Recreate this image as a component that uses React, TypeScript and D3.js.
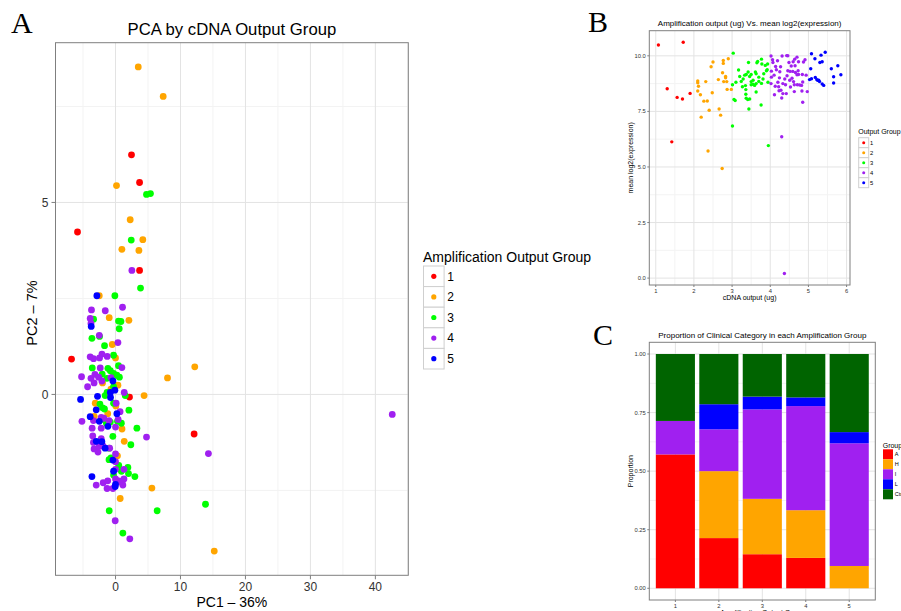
import React from 'react';
import * as d3 from 'd3';

const FONT = '"Liberation Sans", Arial, Helvetica, sans-serif';
const SERIF = '"Liberation Serif", "Times New Roman", serif';

// Amplification output groups and their colours
const outputGroups = ['1', '2', '3', '4', '5'];
const groupColors = ['#FF0000', '#FFA500', '#00FF00', '#A020F0', '#0000FF'];

type Pt = [number, number];

// PCA scores [PC1, PC2] per amplification output group
const pcaGroup1: Pt[] = [
  [2.46, 6.24], [3.7, 5.52], [-5.85, 4.23], [3.7, 3.23], [-6.77, 0.92], [2.15, -0.07], [12.1, -1.03],
];
const pcaGroup2: Pt[] = [
  [3.5, 8.53], [7.34, 7.76], [0.15, 5.44], [2.26, 4.55], [4.2, 4.03], [0.98, 3.78], [3.6, 3.75],
  [-2.5, 2.57], [-0.97, 2.0], [2.06, 1.93], [0, 0.95], [8.0, 0.43], [12.2, 0.72], [0.37, 0.24],
  [-0.71, 0.14], [4.4, -0.03], [-3.12, -0.23], [0.05, -0.3], [-3.28, -0.57], [1.34, -1.22],
  [5.6, -2.44], [0.72, -2.71], [15.2, -4.08], [-1.2, -0.5], [1.0, -0.9], [-2.0, 0.3], [0.3, -1.6],
  [-0.5, 1.3],
];
const pcaGroup3: Pt[] = [
  [4.77, 5.21], [5.38, 5.23], [2.42, 4.02], [3.85, 2.77], [-0.1, 2.57], [0.46, 1.91], [0.83, 1.9],
  [-3.38, 1.96], [0.57, 1.71], [-2.46, 1.51], [-3.63, 1.46], [-1.69, 1.27], [-0.3, 1.02], [0.46, 0.75],
  [-3.58, 0.69], [-1.17, 0.68], [-0.8, 0.62], [-0.3, 0.55], [0.2, 0.5], [0.6, 0.45], [-2.05, 0.53],
  [-1.33, 0.42], [-0.3, 0.2], [-1.3, 0.05], [1.5, -0.03], [-1.6, -0.03], [-2.4, -0.25], [-2.0, -0.35],
  [-1.7, -0.38], [-0.3, -0.23], [2.06, -0.41], [-1.8, -0.65], [-1.4, -0.75], [-0.8, -0.72], [0.3, -0.7],
  [0.9, -0.75], [3.29, -0.88], [-0.41, -1.09], [2.36, -1.31], [-1.0, -1.4], [-1.0, -1.7], [-0.7, -1.65],
  [1.9, -1.9], [0.5, -1.85], [0.9, -2.0], [-0.3, -2.1], [2.0, -2.06], [2.98, -2.14], [-0.97, -3.03],
  [6.41, -3.03], [13.85, -2.86], [1.13, -3.61],
];
const pcaGroup4: Pt[] = [
  [2.52, 3.23], [1.08, 2.27], [-3.7, 2.2], [-1.58, 2.18], [-3.9, 1.98], [-3.78, 1.85], [-2.5, 1.54],
  [0.37, 1.35], [-2.09, 1.05], [-1.28, 0.99], [-3.9, 0.98], [-3.38, 0.93], [-2.46, 0.95], [0.98, 0.7],
  [-2.35, 0.69], [-3.17, 0.52], [-2.6, 0.45], [-5.23, 0.46], [-3.78, 0.42], [-0.71, 0.44], [-3.3, 0.3],
  [-2.1, 0.35], [-4.3, 0.2], [1.34, 0.05], [0.1, -0.23], [0.7, -0.45], [-2.2, -0.6], [-1.8, -0.62],
  [-5.17, -0.7], [-3.4, -0.68], [-1.0, -0.68], [0.4, -0.65], [0.0, -0.85], [-2.2, -0.88], [-3.6, -0.88],
  [-3.5, -1.08], [-2.2, -1.15], [4.77, -1.11], [-3.4, -1.25], [-3.3, -1.42], [-1.9, -1.35], [-2.5, -1.35],
  [-0.9, -1.4], [0.0, -1.55], [0.0, -1.75], [-2.7, -1.5], [0.0, -1.95], [1.3, -1.95], [-1.9, -2.3],
  [-1.2, -2.25], [0.0, -2.2], [0.5, -2.25], [1.0, -2.3], [1.3, -2.2], [-2.97, -2.36], [1.13, -2.36],
  [-1.3, -2.45], [-0.05, -3.29], [2.2, -3.76], [42.6, -0.52], [14.3, -1.54], [-0.4, -2.45],
];
const pcaGroup5: Pt[] = [
  [-2.87, 2.57], [-3.74, 1.77], [-0.1, 0.11], [-0.8, 0.05], [-5.38, -0.13], [-2.77, -0.05], [-0.77, -0.08],
  [-2.97, -0.4], [-3.9, -0.58], [0.21, -0.5], [-1.17, -0.83], [-2.1, -1.23], [-2.97, -1.22], [-1.6, -1.4],
  [-0.41, -1.71], [-0.3, -2.0], [-3.63, -2.14], [0, -2.34], [-0.05, -2.4], [-0.4, 0.35], [-2.5, -0.7],
];
const pcaByGroup = [pcaGroup1, pcaGroup2, pcaGroup3, pcaGroup4, pcaGroup5];
const pcaXTicks = [0, 10, 20, 30, 40];
const pcaYTicks = [0, 5];

// cDNA output (ug) vs. mean log2(expression) per output group
const cdnaGroup1: Pt[] = [
  [1.07, 10.49], [1.72, 10.61], [1.3, 8.52], [1.56, 8.13], [1.7, 8.06], [1.9, 8.31], [1.42, 6.13],
];
const cdnaGroup2: Pt[] = [
  [2.1, 8.87], [2.1, 8.79], [2.12, 8.63], [2.1, 8.42], [2.17, 8.25], [2.31, 8.84], [2.26, 7.96],
  [2.35, 7.97], [2.4, 7.55], [2.19, 7.24], [2.37, 5.72], [2.45, 9.51], [2.5, 9.72], [2.48, 8.34],
  [2.64, 8.93], [2.66, 7.61], [2.7, 7.33], [2.74, 4.93], [2.77, 9.79], [2.77, 9.66], [2.75, 9.24],
  [2.83, 9.01], [2.83, 9.07], [2.78, 8.84], [2.86, 8.84], [2.87, 8.49], [2.9, 9.87], [2.98, 8.49],
];
const cdnaGroup3: Pt[] = [
  [3.03, 10.12], [3.01, 8.7], [3.05, 8.04], [3.08, 7.99], [3.01, 6.84], [3.1, 8.81], [3.17, 9.36],
  [3.2, 9.07], [3.24, 8.85], [3.27, 8.61], [3.29, 8.96], [3.33, 9.13], [3.37, 9.16], [3.35, 8.66],
  [3.36, 8.48], [3.36, 8.27], [3.37, 8.09], [3.41, 8.03], [3.46, 8.06], [3.44, 7.61], [3.43, 9.7],
  [3.42, 9.27], [3.46, 9.07], [3.5, 8.84], [3.5, 8.7], [3.55, 8.9], [3.55, 8.72], [3.59, 8.67],
  [3.63, 8.75], [3.61, 9.27], [3.63, 9.19], [3.65, 9.69], [3.67, 9.75], [3.7, 9.04], [3.7, 8.85],
  [3.63, 8.37], [3.77, 9.85], [3.78, 9.63], [3.77, 8.76], [3.76, 7.79], [3.81, 8.96], [3.83, 9.19],
  [3.87, 9.57], [3.9, 9.33], [3.92, 9.37], [3.94, 8.81], [3.93, 9.63], [3.95, 5.96], [3.5, 9.16],
];
const cdnaGroup4: Pt[] = [
  [4.02, 9.99], [4.06, 9.82], [4.03, 9.31], [4.02, 8.75], [4.07, 9.7], [4.1, 9.13], [4.11, 8.25],
  [4.14, 9.52], [4.16, 9.37], [4.19, 9.78], [4.2, 8.81], [4.22, 8.61], [4.23, 8.43], [4.25, 9.28],
  [4.27, 9.51], [4.3, 8.1], [4.31, 9.99], [4.33, 8.75], [4.3, 6.36], [4.33, 8.3], [4.37, 0.21],
  [4.38, 8.96], [4.4, 8.7], [4.43, 10.01], [4.46, 10.0], [4.46, 9.33], [4.49, 9.7], [4.51, 8.9],
  [4.52, 9.3], [4.55, 9.54], [4.53, 8.6], [4.57, 8.99], [4.59, 9.3], [4.6, 9.73], [4.63, 8.39],
  [4.61, 8.84], [4.66, 9.25], [4.65, 9.55], [4.64, 9.85], [4.7, 9.94], [4.71, 8.7], [4.7, 9.15],
  [4.73, 9.33], [4.74, 9.73], [4.74, 9.16], [4.77, 8.69], [4.82, 8.67], [4.83, 8.42], [4.84, 9.16],
  [4.85, 8.82], [4.85, 7.91], [4.87, 9.72], [4.91, 9.82], [4.94, 9.13], [4.97, 8.39], [4.03, 9.04],
  [4.24, 9.01], [4.44, 9.1], [4.13, 8.63], [4.28, 8.45], [4.63, 8.7], [4.42, 8.3],
];
const cdnaGroup5: Pt[] = [
  [5.08, 10.09], [5.06, 9.42], [5.03, 8.93], [5.08, 8.97], [5.17, 9.87], [5.18, 9.03], [5.22, 8.93],
  [5.24, 8.9], [5.27, 8.9], [5.3, 9.7], [5.33, 10.03], [5.36, 9.73], [5.36, 8.73], [5.4, 8.67],
  [5.44, 10.16], [5.6, 9.42], [5.66, 9.06], [5.66, 8.78], [5.77, 9.55], [5.85, 9.15], [5.29, 8.84],
];
const cdnaByGroup = [cdnaGroup1, cdnaGroup2, cdnaGroup3, cdnaGroup4, cdnaGroup5];
const cdnaXTicks = [1, 2, 3, 4, 5, 6];
const cdnaYTicks = [0, 2.5, 5, 7.5, 10];

// Clinical category counts in each amplification group (groups 1..5)
const clinicalCategories = ['A', 'H', 'I', 'L', 'Ctrl'];
const categoryColors = ['#FF0000', '#FFA500', '#A020F0', '#0000FF', '#006400'];
const countA = [4, 6, 8, 7, 0];
const countH = [0, 8, 13, 11, 2];
const countI = [1, 5, 21, 24, 11];
const countL = [0, 3, 3, 2, 1];
const countCtrl = [2, 6, 10, 10, 7];
const propYTicks = [0, 0.25, 0.5, 0.75, 1];

type Box = { left: number; top: number; right: number; bottom: number };

const FRAME = '#7f7f7f';
const MAJOR = '#e3e3e3';
const MINOR = '#f3f3f3';

function paddedDomain(vals: number[]): [number, number] {
  const [lo, hi] = d3.extent(vals) as [number, number];
  const pad = (hi - lo) * 0.05;
  return [lo - pad, hi + pad];
}

function minorBreaks(major: number[], domain: [number, number]): number[] {
  const step = major[1] - major[0];
  let v = major[0] - step / 2;
  while (v - step >= domain[0]) v -= step;
  const out: number[] = [];
  for (; v <= domain[1]; v += step) if (v >= domain[0]) out.push(v);
  return out;
}

type GridProps = {
  box: Box;
  xs: number[]; xsMinor: number[];
  ys: number[]; ysMinor: number[];
};

function Grid({ box, xs, xsMinor, ys, ysMinor }: GridProps) {
  return (
    <g>
      {xsMinor.map((p, i) => <line key={'xm' + i} x1={p} x2={p} y1={box.top} y2={box.bottom} stroke={MINOR} strokeWidth={1} />)}
      {ysMinor.map((p, i) => <line key={'ym' + i} x1={box.left} x2={box.right} y1={p} y2={p} stroke={MINOR} strokeWidth={1} />)}
      {xs.map((p, i) => <line key={'xM' + i} x1={p} x2={p} y1={box.top} y2={box.bottom} stroke={MAJOR} strokeWidth={1} />)}
      {ys.map((p, i) => <line key={'yM' + i} x1={box.left} x2={box.right} y1={p} y2={p} stroke={MAJOR} strokeWidth={1} />)}
    </g>
  );
}

type AxisProps = {
  box: Box;
  xs: { pos: number; label: string }[];
  ys: { pos: number; label: string }[];
  size: number;
  tick: number;
  gap: number;
  color?: string;
};

function AxisLabels({ box, xs, ys, size, tick, gap, color = '#333' }: AxisProps) {
  return (
    <g fontFamily={FONT} fontSize={size} fill={color}>
      {xs.map((t, i) => (
        <g key={'x' + i}>
          <line x1={t.pos} x2={t.pos} y1={box.bottom} y2={box.bottom + tick} stroke={FRAME} strokeWidth={1} />
          <text x={t.pos} y={box.bottom + tick + gap + size * 0.72} textAnchor="middle">{t.label}</text>
        </g>
      ))}
      {ys.map((t, i) => (
        <g key={'y' + i}>
          <line x1={box.left - tick} x2={box.left} y1={t.pos} y2={t.pos} stroke={FRAME} strokeWidth={1} />
          <text x={box.left - tick - gap} y={t.pos + size * 0.36} textAnchor="end">{t.label}</text>
        </g>
      ))}
    </g>
  );
}

type ScatterProps = {
  box: Box;
  series: Pt[][];
  xTicks: number[];
  yTicks: number[];
  yFormat: (v: number) => string;
  radius: number;
  tickSize: number;
  tickLen: number;
  tickGap: number;
};

function ScatterPanel({ box, series, xTicks, yTicks, yFormat, radius, tickSize, tickLen, tickGap }: ScatterProps) {
  const all = series.flat();
  const xDom = paddedDomain(all.map(d => d[0]));
  const yDom = paddedDomain(all.map(d => d[1]));
  const x = d3.scaleLinear().domain(xDom).range([box.left, box.right]);
  const y = d3.scaleLinear().domain(yDom).range([box.bottom, box.top]);
  return (
    <g>
      <rect x={box.left} y={box.top} width={box.right - box.left} height={box.bottom - box.top} fill="#fff" />
      <Grid
        box={box}
        xs={xTicks.map(x)}
        xsMinor={minorBreaks(xTicks, xDom).map(x)}
        ys={yTicks.map(y)}
        ysMinor={minorBreaks(yTicks, yDom).map(y)}
      />
      {series.map((pts, g) => (
        <g key={g} fill={groupColors[g]}>
          {pts.map((d, i) => <circle key={i} cx={x(d[0])} cy={y(d[1])} r={radius} />)}
        </g>
      ))}
      <rect x={box.left} y={box.top} width={box.right - box.left} height={box.bottom - box.top} fill="none" stroke={FRAME} strokeWidth={1} />
      <AxisLabels
        box={box}
        xs={xTicks.map(v => ({ pos: x(v), label: String(v) }))}
        ys={yTicks.map(v => ({ pos: y(v), label: yFormat(v) }))}
        size={tickSize}
        tick={tickLen}
        gap={tickGap}
      />
    </g>
  );
}

function PointLegend({ x, y, keySize, title, titleSize, labelSize, radius }:
  { x: number; y: number; keySize: number; title: string; titleSize: number; labelSize: number; radius: number }) {
  return (
    <g fontFamily={FONT}>
      <text x={x} y={y - 4} fontSize={titleSize} fill="#000">{title}</text>
      {outputGroups.map((g, i) => (
        <g key={g}>
          <rect x={x + 0.5} y={y + i * keySize} width={keySize} height={keySize} fill="#fff" stroke="#cfcfcf" strokeWidth={1} />
          <circle cx={x + 0.5 + keySize / 2} cy={y + i * keySize + keySize / 2} r={radius} fill={groupColors[i]} />
          <text x={x + keySize + keySize * 0.18} y={y + i * keySize + keySize / 2 + labelSize * 0.36} fontSize={labelSize} fill="#000">{g}</text>
        </g>
      ))}
    </g>
  );
}

function ProportionPanel({ box }: { box: Box }) {
  const rows = outputGroups.map((g, i) => {
    const total = countA[i] + countH[i] + countI[i] + countL[i] + countCtrl[i];
    return {
      group: g,
      A: countA[i] / total,
      H: countH[i] / total,
      I: countI[i] / total,
      L: countL[i] / total,
      Ctrl: countCtrl[i] / total,
    };
  });
  const stacked = d3.stack<any>().keys(clinicalCategories)(rows);
  // discrete axis with 0.6-unit expansion on each side and bars 0.9 units wide
  const x = d3.scaleBand().domain(outputGroups).range([box.left, box.right]).paddingInner(0.1).paddingOuter(0.15);
  const yDom: [number, number] = [-0.05, 1.05];
  const y = d3.scaleLinear().domain(yDom).range([box.bottom, box.top]);
  const centers = outputGroups.map(g => (x(g) as number) + x.bandwidth() / 2);
  return (
    <g>
      <rect x={box.left} y={box.top} width={box.right - box.left} height={box.bottom - box.top} fill="#fff" />
      <Grid
        box={box}
        xs={centers}
        xsMinor={[]}
        ys={propYTicks.map(y)}
        ysMinor={minorBreaks(propYTicks, yDom).map(y)}
      />
      {stacked.map((layer, k) => (
        <g key={layer.key} fill={categoryColors[k]}>
          {layer.map((d, i) => (
            <rect
              key={i}
              x={x(outputGroups[i])}
              width={x.bandwidth()}
              y={y(d[1])}
              height={Math.max(0, y(d[0]) - y(d[1]))}
            />
          ))}
        </g>
      ))}
      <rect x={box.left} y={box.top} width={box.right - box.left} height={box.bottom - box.top} fill="none" stroke={FRAME} strokeWidth={1} />
      <AxisLabels
        box={box}
        xs={outputGroups.map((g, i) => ({ pos: centers[i], label: g }))}
        ys={propYTicks.map(v => ({ pos: y(v), label: d3.format('.2f')(v) }))}
        size={5.8}
        tick={2}
        gap={1.5}
      />
    </g>
  );
}

export default function App() {
  const boxA: Box = { left: 55.5, top: 42.7, right: 408.3, bottom: 575.3 };
  const boxB: Box = { left: 649.3, top: 30.7, right: 850, bottom: 285 };
  const boxC: Box = { left: 649.3, top: 342.3, right: 875.3, bottom: 600 };
  return (
    <svg
      width={901}
      height={611}
      viewBox="0 0 901 611"
      style={{ position: 'absolute', left: 0, top: 0, background: '#fff' }}
    >
      <rect width={901} height={611} fill="#fff" />

      {/* A: PCA scatter */}
      <text x={11} y={33} fontFamily={SERIF} fontSize={30}>A</text>
      <text x={(boxA.left + boxA.right) / 2} y={35.3} fontFamily={FONT} fontSize={16.7} textAnchor="middle">PCA by cDNA Output Group</text>
      <ScatterPanel
        box={boxA}
        series={pcaByGroup}
        xTicks={pcaXTicks}
        yTicks={pcaYTicks}
        yFormat={v => String(v)}
        radius={3.4}
        tickSize={12}
        tickLen={4}
        tickGap={3}
      />
      <text x={(boxA.left + boxA.right) / 2} y={606.7} fontFamily={FONT} fontSize={14} textAnchor="middle">PC1 – 36%</text>
      <text transform="translate(37.3,313) rotate(-90)" fontFamily={FONT} fontSize={14.5} textAnchor="middle">PC2 – 7%</text>
      <PointLegend x={423} y={266} keySize={20.6} title="Amplification Output Group" titleSize={14} labelSize={12} radius={2.6} />

      {/* B: cDNA output vs. mean expression */}
      <text x={588} y={32.3} fontFamily={SERIF} fontSize={30}>B</text>
      <text x={(boxB.left + boxB.right) / 2} y={26.4} fontFamily={FONT} fontSize={8} textAnchor="middle">Amplification output (ug) Vs. mean log2(expression)</text>
      <ScatterPanel
        box={boxB}
        series={cdnaByGroup}
        xTicks={cdnaXTicks}
        yTicks={cdnaYTicks}
        yFormat={d3.format('.1f')}
        radius={1.7}
        tickSize={5.8}
        tickLen={2}
        tickGap={1.5}
      />
      <text x={(boxB.left + boxB.right) / 2} y={299.5} fontFamily={FONT} fontSize={7} textAnchor="middle">cDNA output (ug)</text>
      <text transform={`translate(632.5,${(boxB.top + boxB.bottom) / 2}) rotate(-90)`} fontFamily={FONT} fontSize={7} textAnchor="middle">mean log2(expression)</text>
      <PointLegend x={858.2} y={137.7} keySize={10} title="Output Group" titleSize={7} labelSize={5.8} radius={1.5} />

      {/* C: clinical category proportions */}
      <text x={593} y={345} fontFamily={SERIF} fontSize={30}>C</text>
      <text x={(boxC.left + boxC.right) / 2} y={337.5} fontFamily={FONT} fontSize={8} textAnchor="middle">Proportion of Clinical Category in each Amplification Group</text>
      <ProportionPanel box={boxC} />
      <text x={(boxC.left + boxC.right) / 2} y={615} fontFamily={FONT} fontSize={7} textAnchor="middle">Amplification Output Group</text>
      <text transform={`translate(632.5,${(boxC.top + boxC.bottom) / 2}) rotate(-90)`} fontFamily={FONT} fontSize={7} textAnchor="middle">Proportion</text>
      <g fontFamily={FONT}>
        <text x={882.7} y={447.8} fontSize={7}>Group</text>
        {clinicalCategories.map((c, i) => (
          <g key={c}>
            <rect x={883} y={449.3 + i * 10} width={10} height={10} fill={categoryColors[i]} />
            <text x={894.8} y={449.3 + i * 10 + 7} fontSize={5.5}>{c}</text>
          </g>
        ))}
      </g>
    </svg>
  );
}
